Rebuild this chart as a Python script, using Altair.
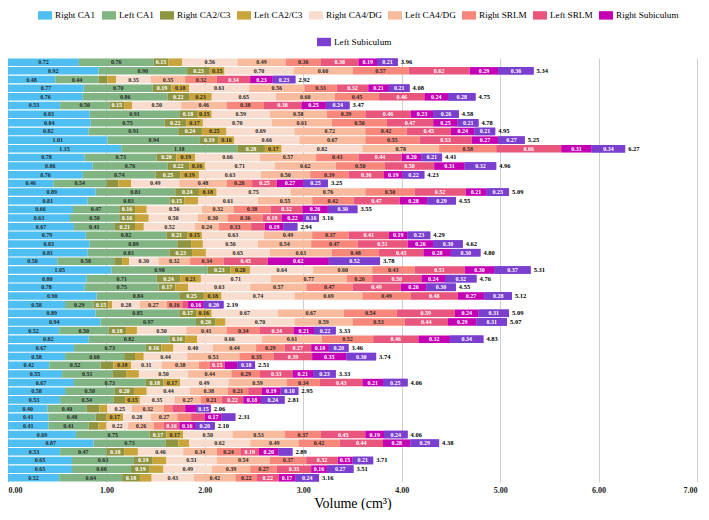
import altair as alt
import pandas as pd

regions = ["Right CA1", "Left CA1", "Right CA2/C3", "Left CA2/C3", "Right CA4/DG",
           "Left CA4/DG", "Right SRLM", "Left SRLM", "Right Subiculum", "Left Subiculum"]
colors = ["#4fbff2", "#80b482", "#8f9440", "#c9a43c", "#f8dccd",
          "#f9bb9e", "#f7877b", "#e8557d", "#c400b4", "#7a3fcf"]
dark_text_regions = ["Right CA1", "Left CA1", "Left CA2/C3", "Right CA4/DG", "Left CA4/DG", "Right SRLM"]
white_text_regions = ["Right CA2/C3", "Left SRLM", "Right Subiculum", "Left Subiculum"]

right_ca1 = [0.72, 0.92, 0.48, 0.77, 0.76, 0.53, 0.83, 0.84, 0.82, 1.01, 1.15, 0.78, 0.86, 0.76, 0.46, 0.89, 0.81,
             0.66, 0.63, 0.67, 0.79, 0.83, 0.81, 0.50, 1.05, 0.80, 0.78, 0.90, 0.58, 0.89, 0.94, 0.52, 0.82, 0.67,
             0.58, 0.42, 0.55, 0.67, 0.58, 0.53, 0.40, 0.41, 0.41, 0.69, 0.87, 0.53, 0.65, 0.65, 0.52]
left_ca1 = [0.76, 0.90, 0.44, 0.70, 0.86, 0.50, 0.91, 0.75, 0.91, 0.94, 1.18, 0.73, 0.76, 0.74, 0.54, 0.81, 0.83,
            0.47, 0.50, 0.41, 0.82, 0.89, 0.83, 0.58, 0.98, 0.71, 0.75, 0.84, 0.29, 0.85, 0.97, 0.50, 0.82, 0.73,
            0.60, 0.52, 0.51, 0.73, 0.50, 0.54, 0.40, 0.48, 0.41, 0.75, 0.73, 0.47, 0.63, 0.60, 0.64]
right_ca23 = [0.15, 0.23, 0.09, 0.19, 0.22, 0.15, 0.18, 0.22, 0.24, 0.19, 0.28, 0.20, 0.22, 0.25, 0.12, 0.24, 0.15,
              0.16, 0.16, 0.21, 0.21, 0.14, 0.23, 0.08, 0.23, 0.24, 0.17, 0.25, 0.15, 0.17, 0.20, 0.18, 0.16, 0.16,
              0.11, 0.13, 0.14, 0.18, 0.20, 0.12, 0.13, 0.11, 0.10, 0.17, 0.13, 0.18, 0.19, 0.19, 0.18]
left_ca23 = [0.14, 0.15, 0.09, 0.18, 0.23, 0.08, 0.15, 0.17, 0.25, 0.16, 0.17, 0.19, 0.16, 0.19, 0.13, 0.18, 0.14,
             0.12, 0.14, 0.09, 0.15, 0.12, 0.14, 0.07, 0.20, 0.21, 0.13, 0.18, 0.04, 0.16, 0.10, 0.11, 0.12, 0.12,
             0.09, 0.18, 0.13, 0.17, 0.13, 0.15, 0.08, 0.17, 0.08, 0.17, 0.11, 0.14, 0.14, 0.14, 0.12]
right_ca4 = [0.56, 0.70, 0.35, 0.61, 0.65, 0.50, 0.59, 0.70, 0.69, 0.66, 0.82, 0.66, 0.71, 0.63, 0.49, 0.75, 0.61,
             0.56, 0.50, 0.52, 0.63, 0.56, 0.65, 0.30, 0.64, 0.71, 0.63, 0.74, 0.28, 0.67, 0.70, 0.50, 0.66, 0.40,
             0.44, 0.31, 0.50, 0.49, 0.44, 0.35, 0.25, 0.28, 0.22, 0.50, 0.62, 0.46, 0.51, 0.49, 0.43]
left_ca4 = [0.49, 0.60, 0.35, 0.56, 0.60, 0.46, 0.58, 0.61, 0.72, 0.67, 0.78, 0.57, 0.62, 0.50, 0.48, 0.76, 0.55,
            0.32, 0.30, 0.24, 0.49, 0.54, 0.63, 0.32, 0.60, 0.77, 0.57, 0.69, 0.27, 0.67, 0.59, 0.41, 0.61, 0.44,
            0.53, 0.38, 0.44, 0.59, 0.38, 0.27, 0.32, 0.27, 0.26, 0.53, 0.49, 0.34, 0.54, 0.39, 0.42]
right_srlm = [0.36, 0.57, 0.32, 0.33, 0.45, 0.38, 0.39, 0.56, 0.42, 0.55, 0.58, 0.43, 0.50, 0.39, 0.26, 0.50, 0.42,
              0.38, 0.36, 0.33, 0.37, 0.47, 0.48, 0.34, 0.43, 0.26, 0.47, 0.49, 0.16, 0.54, 0.53, 0.34, 0.52, 0.29,
              0.35, 0.11, 0.29, 0.34, 0.21, 0.21, 0.09, 0.14, 0.10, 0.37, 0.42, 0.24, 0.37, 0.27, 0.22]
left_srlm = [0.38, 0.62, 0.34, 0.32, 0.46, 0.38, 0.46, 0.47, 0.45, 0.53, 0.66, 0.44, 0.50, 0.36, 0.25, 0.52, 0.47,
             0.32, 0.19, 0.14, 0.41, 0.51, 0.45, 0.45, 0.51, 0.50, 0.49, 0.48, 0.06, 0.59, 0.44, 0.34, 0.46, 0.27,
             0.39, 0.15, 0.33, 0.43, 0.14, 0.22, 0.13, 0.14, 0.16, 0.45, 0.44, 0.19, 0.32, 0.35, 0.22]
right_sub = [0.19, 0.29, 0.23, 0.21, 0.24, 0.25, 0.23, 0.25, 0.24, 0.27, 0.31, 0.20, 0.31, 0.19, 0.27, 0.21, 0.28,
             0.26, 0.22, 0.19, 0.19, 0.26, 0.28, 0.62, 0.30, 0.24, 0.26, 0.27, 0.16, 0.24, 0.29, 0.21, 0.32, 0.18,
             0.35, 0.13, 0.21, 0.21, 0.19, 0.18, 0.11, 0.17, 0.16, 0.19, 0.28, 0.20, 0.15, 0.16, 0.17]
left_sub = [0.21, 0.36, 0.23, 0.21, 0.28, 0.24, 0.26, 0.21, 0.21, 0.27, 0.34, 0.21, 0.32, 0.22, 0.25, 0.23, 0.29,
            0.30, 0.16, 0.14, 0.23, 0.30, 0.30, 0.52, 0.37, 0.32, 0.30, 0.28, 0.20, 0.31, 0.31, 0.22, 0.34, 0.20,
            0.30, 0.18, 0.23, 0.25, 0.18, 0.24, 0.15, 0.14, 0.20, 0.24, 0.29, 0.14, 0.21, 0.27, 0.24]
totals = [3.96, 5.34, 2.92, 4.08, 4.75, 3.47, 4.58, 4.78, 4.95, 5.25, 6.27, 4.41, 4.96, 4.23, 3.25, 5.09, 4.55,
          3.55, 3.16, 2.94, 4.29, 4.62, 4.80, 3.78, 5.31, 4.76, 4.55, 5.12, 2.19, 5.09, 5.07, 3.33, 4.83, 3.46,
          3.74, 2.51, 3.33, 4.06, 2.95, 2.81, 2.06, 2.31, 2.10, 4.06, 4.38, 2.89, 3.71, 3.51, 3.16]
x_ticks = [0, 1, 2, 3, 4, 5, 6, 7]

series = [right_ca1, left_ca1, right_ca23, left_ca23, right_ca4,
          left_ca4, right_srlm, left_srlm, right_sub, left_sub]

records = []
for i in range(len(totals)):
    for k, (reg, vals) in enumerate(zip(regions, series)):
        records.append({"row": i + 1, "region": reg, "order": k, "value": vals[i]})
df = pd.DataFrame(records)
tot_df = pd.DataFrame({"row": list(range(1, len(totals) + 1)), "total": totals})

FONT = "Liberation Serif"
TITLE = "Volume (cm³)"
x_scale = alt.Scale(domain=[0, 7], nice=False, zero=True)
x_axis = alt.Axis(values=x_ticks, format=".2f", labelFlush=True,
                  labelFont=FONT, labelFontSize=8, labelFontWeight="bold", labelColor="#222",
                  labelPadding=4, domain=False, ticks=False, grid=True,
                  gridColor="#cfcfcf", gridWidth=1,
                  titleFont=FONT, titleFontSize=14, titleFontWeight="normal",
                  titleColor="black", titlePadding=2)
y_enc = alt.Y("row:O", axis=None, scale=alt.Scale(paddingInner=0.13, paddingOuter=0.05))


def xq(field):
    return alt.X(field, type="quantitative", scale=x_scale, axis=x_axis, title=TITLE)


base = alt.Chart(df).transform_stack(
    stack="value", groupby=["row"], sort=[alt.SortField("order", order="ascending")], as_=["x0", "x1"]
).transform_calculate(mid="(datum.x0 + datum.x1) / 2")

legend_common = dict(
    title=None, orient="none", direction="horizontal",
    labelFont=FONT, labelFontSize=9.2, labelColor="black", labelOffset=3,
    symbolType="M-1,-0.6H1V0.6H-1Z", symbolSize=196, symbolStrokeWidth=0,
    columnPadding=6,
)

bars = base.mark_bar().encode(
    x=xq("x0"),
    x2="x1:Q",
    y=y_enc,
    color=alt.Color("region:N", scale=alt.Scale(domain=regions, range=colors),
                    legend=alt.Legend(values=regions[:9], columns=9, legendX=30, legendY=-50,
                                      **legend_common)),
)

last_bar = base.transform_filter(alt.datum.region == regions[-1]).mark_bar().encode(
    x=xq("x0"),
    x2="x1:Q",
    y=y_enc,
    fill=alt.Fill("region:N", scale=alt.Scale(domain=[regions[-1]], range=[colors[-1]]),
                  legend=alt.Legend(legendX=309, legendY=-23, **legend_common)),
)


def in_list(lst):
    return "indexof([" + ",".join("'" + s + "'" for s in lst) + "], datum.region) >= 0"


dark_text = base.transform_filter(
    "datum.value >= 0.15 && " + in_list(dark_text_regions)
).mark_text(font=FONT, fontSize=6, fontWeight="bold", color="#2a2a2a").encode(
    x=xq("mid"), y=y_enc,
    text=alt.Text("value:Q", format=".2f"),
)

white_text = base.transform_filter(
    "datum.value >= 0.15 && " + in_list(white_text_regions)
).mark_text(font=FONT, fontSize=6, fontWeight="bold", color="white").encode(
    x=xq("mid"), y=y_enc,
    text=alt.Text("value:Q", format=".2f"),
)

total_text = alt.Chart(tot_df).mark_text(
    font=FONT, fontSize=6.5, fontWeight="bold", color="black", align="left", dx=3
).encode(
    x=xq("total"), y=y_enc,
    text=alt.Text("total:Q", format=".2f"),
)

chart = alt.layer(bars, last_bar, dark_text, white_text, total_text).properties(
    width=689, height=424,
    padding={"left": 0, "top": 0, "right": 4, "bottom": 0},
).configure_view(stroke=None)

chart.save("out.html", embed_options={"renderer": "svg", "actions": False})
